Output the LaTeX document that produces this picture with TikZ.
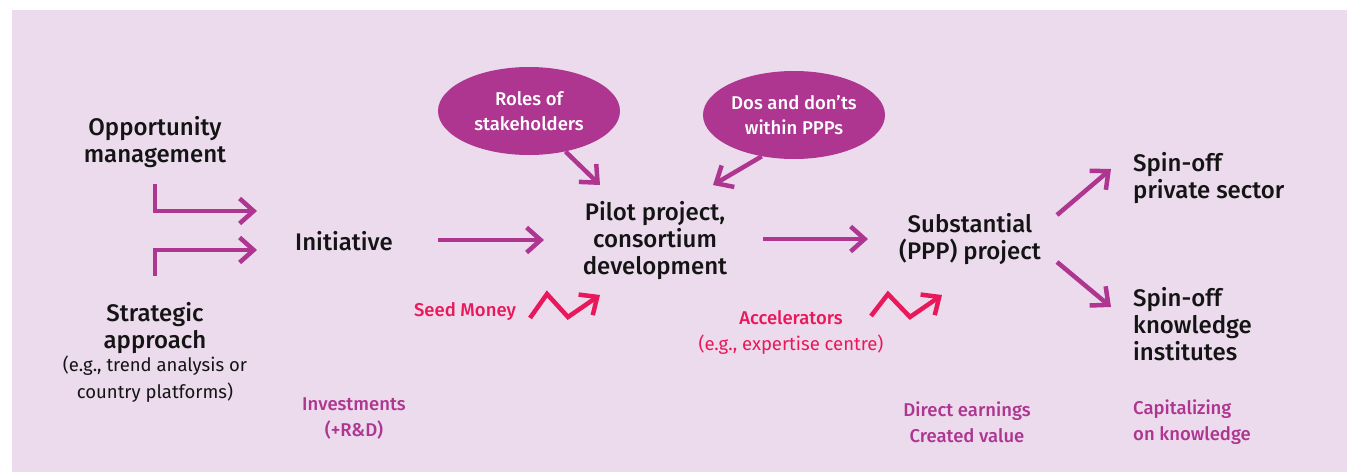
\documentclass[tikz,border=0pt]{standalone}
\usepackage{fontspec}
\setmainfont{Fira Sans}
\newfontfamily\medfont{Fira Sans Medium}
\usetikzlibrary{arrows.meta,shapes.geometric}
\definecolor{bg}{RGB}{235,219,236}
\definecolor{plum}{RGB}{174,53,144}
\definecolor{rose}{RGB}{232,24,90}
\definecolor{ink}{RGB}{20,20,20}
\begin{document}
\begin{tikzpicture}[x=1pt,y=-1pt,
  main/.style={font=\medfont\fontsize{24}{27}\selectfont, text=ink, align=center, inner sep=0pt},
  note/.style={font=\fontsize{18.5}{27}\selectfont, text=ink, align=center, inner sep=0pt},
  gain/.style={font=\medfont\fontsize{18.5}{26}\selectfont, text=plum, inner sep=0pt},
  boost/.style={font=\medfont\fontsize{18.5}{27}\selectfont, text=rose, align=center, inner sep=0pt},
  bubble/.style={ellipse, fill=plum, text=white, font=\medfont\fontsize{18.5}{25}\selectfont,
    align=center, minimum width=182pt, minimum height=88pt, inner sep=0pt},
  tip/.style={-{Straight Barb[length=14pt, width=25pt, line width=4.5pt]}},
  flow/.style={draw=plum, line width=4.5pt, miter limit=10, tip},
  jump/.style={draw=rose, line width=4.5pt, tip},
]
\useasboundingbox (0,0) rectangle (1347,472);
\fill[bg] (12,10) rectangle (1347,472);

% stages
\node[main] (opp) at (155,142) {Opportunity\\management};
\node[main] (strat) at (155,328) {Strategic\\approach};
\node[note, anchor=north] (stratnote) at (155,356) {(e.g., trend analysis or\\country platforms)};
\node[main] (init) at (344,241) {Initiative};
\node[main] (pilot) at (655,241) {Pilot project,\\consortium\\development};
\node[main] (subst) at (970,239) {Substantial\\(PPP) project};
\node[main, align=left, anchor=west] (priv) at (1133,178) {Spin-off\\private sector};
\node[main, align=left, anchor=west] (know) at (1133,324) {Spin-off\\knowledge\\institutes};

% bubbles
\node[bubble] (roles) at (529,111) {Roles of\\stakeholders};
\node[bubble] (dos) at (794,115) {Dos and don’ts\\within PPPs};

% boosters
\node[boost] (seed) at (465,312) {Seed Money};
\node[boost] (accel) at (791,318) {Accelerators};
\node[note, text=rose] (accelnote) at (791,345) {(e.g., expertise centre)};

% returns
\node[gain, align=center] (invest) at (354,419) {Investments\\(+R\&D)};
\node[gain, align=center] (earn) at (967,422) {Direct earnings\\Created value};
\node[gain, align=left, anchor=west] (capit) at (1133,422) {Capitalizing\\on knowledge};

% connector end points
\coordinate (oppA) at (155,184);
\coordinate (oppB) at (257,211);
\coordinate (stratA) at (155,276);
\coordinate (stratB) at (257,250);
\coordinate (initR) at (438,240);
\coordinate (pilotL) at (544,240);
\coordinate (pilotR) at (763,239);
\coordinate (substL) at (868,239);
\coordinate (substTR) at (1057,215);
\coordinate (substBR) at (1057,262);
\coordinate (privL) at (1111,169);
\coordinate (knowL) at (1111,307);
\coordinate (rolesTip) at (600,185);
\coordinate (dosTip) at (713,185);

% flow
\draw[flow] (oppA) |- (oppB);
\draw[flow] (stratA) |- (stratB);
\draw[flow] (initR) -- (pilotL);
\draw[flow] (pilotR) -- (substL);
\draw[flow] (substTR) -- (privL);
\draw[flow] (substBR) -- (knowL);
\draw[flow] (roles.-48) -- (rolesTip);
\draw[flow] (dos.-128) -- (dosTip);

% zigzag boosts
\draw[jump] (530,318) -- (547,294) -- (568,317) -- (600,295);
\draw[jump] (871,316) -- (888,294) -- (910,317) -- (942,295);
\end{tikzpicture}
\end{document}
